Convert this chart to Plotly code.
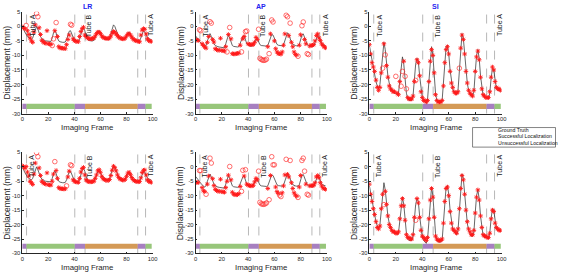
import plotly.graph_objects as go

W, H = 561, 277
frames = list(range(100))

# ---------------- data ----------------
gt_lr = [-0.5, -1.0, -2.0, -3.0, -3.5, -4.0, -4.3, -4.5, -4.0, -2.5,
         -0.8, 0.0, -1.0, -2.5, -3.5, -4.2, -4.6, -4.8, -5.0, -5.0,
         -5.1, -5.2, -5.2, -4.0, -2.2, -1.5, -2.3, -4.0, -5.0, -5.3,
         -5.5, -5.5, -5.5, -5.4, -4.5, -2.8, -1.7, -1.5, -2.8, -4.2,
         -4.8, -5.0, -5.1, -5.2, -4.5, -2.5, -1.0, -0.5, -1.5, -3.5,
         -4.5, -4.8, -5.0, -5.0, -5.0, -4.8, -3.8, -2.5, -1.7, -1.5,
         -2.2, -3.3, -4.0, -4.3, -4.5, -4.6, -4.6, -4.3, -3.0, -1.0,
         0.5, 0.0, -1.2, -2.6, -3.6, -4.1, -4.3, -4.5, -4.5, -4.2,
         -3.2, -2.2, -2.0, -2.6, -3.6, -4.3, -4.7, -4.9, -5.0, -5.1,
         -5.0, -4.0, -2.5, -1.5, -2.0, -3.0, -3.8, -4.2, -4.5, -4.6]

gt_ap = [-3.3, -3.8, -4.5, -5.2, -5.8, -6.3, -6.7, -7.0, -6.5, -5.0,
         -3.3, -2.5, -3.5, -5.0, -6.0, -6.6, -6.9, -7.0, -7.1, -7.2,
         -7.3, -7.4, -7.4, -6.0, -4.0, -3.0, -4.0, -5.8, -6.6, -6.9,
         -7.0, -7.1, -7.1, -7.0, -6.0, -4.5, -3.5, -3.2, -4.5, -6.0,
         -6.5, -6.7, -6.8, -6.8, -6.3, -5.2, -4.5, -4.3, -5.3, -6.3,
         -6.6, -6.7, -6.8, -6.8, -6.8, -6.6, -5.5, -3.8, -2.8, -3.0,
         -4.2, -5.5, -6.2, -6.5, -6.6, -6.7, -6.7, -6.3, -4.8, -3.0,
         -2.2, -2.8, -4.3, -5.5, -6.2, -6.5, -6.6, -6.7, -6.7, -6.2,
         -4.5, -3.0, -2.6, -3.8, -5.3, -6.2, -6.6, -6.8, -6.9, -6.9,
         -6.8, -5.5, -4.0, -3.2, -3.5, -5.0, -6.0, -6.3, -6.5, -6.6]

gt_si = [-6.5, -9.0, -12.0, -14.5, -17.0, -19.0, -20.5, -21.5, -20.0, -15.0,
         -9.0, -5.5, -8.0, -13.0, -17.0, -19.5, -21.0, -22.0, -22.5, -23.0,
         -23.0, -23.5, -23.0, -18.0, -13.0, -10.5, -13.0, -18.0, -23.0, -25.0,
         -25.5, -25.5, -25.5, -24.0, -18.0, -13.0, -11.0, -12.0, -17.0, -22.0,
         -24.5, -25.5, -26.0, -26.5, -25.0, -18.0, -11.0, -7.0, -10.0, -17.0,
         -23.0, -25.5, -26.0, -26.0, -26.0, -25.5, -20.0, -12.0, -7.0, -6.5,
         -9.5, -15.0, -19.0, -21.5, -22.5, -23.0, -23.5, -22.0, -15.0, -7.0,
         -2.5, -4.0, -9.0, -15.0, -19.5, -22.0, -23.0, -24.0, -24.0, -22.5,
         -16.0, -10.0, -8.0, -11.0, -17.0, -21.5, -24.0, -24.5, -24.5, -24.5,
         -25.0, -23.0, -18.0, -14.5, -15.0, -19.5, -21.5, -22.0, -22.0, -22.5]

lr_r1 = [-0.2, -0.5, -0.8, 0.3, -1.5, -2.8, -4.0, -5.0, -5.5, -2.0,
         0.5, 4.4, 3.3, -0.5, -2.8, -4.8, -5.3, -5.7, -5.8, -1.5,
         -6.0, -6.1, -6.2, -6.6, -4.3, -1.5, 1.3, -3.5, -7.0, -7.4,
         -7.5, -7.5, -7.6, -7.7, -6.3, -4.5, -3.0, 0.7, 0.4, -4.3,
         -4.9, -5.1, -5.2, -5.3, -3.5, -1.8, -0.8, -0.3, -3.0, -3.5,
         -4.0, -4.2, -4.3, -4.3, -4.2, -4.0, -3.3, -2.5, -2.0, -2.0,
         -2.5, -3.3, -3.8, -4.0, -4.1, -4.2, -4.2, -4.0, -3.3, -2.3,
         -1.8, -2.0, -2.6, -3.2, -3.7, -4.0, -4.2, -4.3, -4.3, -4.0,
         -3.3, -2.7, -2.5, -3.0, -3.7, -4.3, -4.7, -4.9, -5.0, -5.2,
         -5.3, -3.0, -1.3, -0.8, -1.0, -2.6, -4.3, -4.9, -5.1, -5.2]
lr_r1_fail = [3, 11, 12, 23, 24, 26, 37, 38]

lr_r2 = [0.4, 0.0, -0.5, 0.1, -1.8, -3.2, -5.0, -5.5, -6.1, -2.5,
         1.3, 4.9, 3.5, -0.4, -3.0, -5.0, -5.5, -5.8, -6.0, -2.1,
         -6.2, -6.3, -6.3, -5.0, -2.5, 1.8, -1.3, -4.0, -7.2, -7.5,
         -7.6, -7.6, -7.7, -7.6, -6.6, -3.5, -1.5, 0.7, 0.4, -4.5,
         -5.0, -5.2, -5.3, -5.4, -4.0, -1.8, -0.6, -0.2, -2.8, -4.5,
         -5.0, -5.1, -5.2, -5.2, -5.1, -5.0, -4.0, -2.8, -1.4, -1.0,
         -1.9, -3.3, -4.1, -4.4, -4.6, -4.7, -4.7, -4.4, -3.0, -1.2,
         0.2, -0.3, -1.4, -2.8, -3.7, -4.2, -4.4, -4.6, -4.6, -4.3,
         -3.3, -2.2, -1.9, -2.7, -3.7, -4.4, -4.8, -5.0, -5.1, -5.2,
         -5.1, -3.8, -2.0, -1.2, -1.1, -2.8, -4.5, -5.0, -5.2, -5.4]
lr_r2_fail = [11, 12, 25, 34, 37, 38]

ap_r1 = [-4.6, -4.7, -4.9, -1.2, -1.5, -6.0, -6.6, -7.1, -7.5, -5.5,
         -3.5, 1.6, 1.1, -4.5, -5.4, -7.7, -8.0, -8.2, -8.2, -4.1,
         -8.3, -8.4, -8.5, -7.0, -8.8, -2.8, -0.4, -4.3, -9.4, -9.5,
         -9.5, -9.4, -9.3, -9.2, -6.5, -8.8, -4.3, -3.5, -1.8, -1.6,
         -6.0, -6.2, -6.3, -6.3, -6.2, -5.5, -3.8, -4.5, -1.0, -11.0,
         -11.4, -11.6, -11.7, -11.6, -11.3, -7.0, -9.4, -2.6, 2.2, 1.5,
         -5.0, -7.7, -8.8, -9.4, -9.4, -9.6, -8.8, -6.5, -2.6, 3.8,
         3.3, -3.2, 1.1, -5.5, -7.0, -8.8, -9.7, -9.9, -10.3, -6.5,
         -2.9, 0.2, 1.5, -4.5, -6.0, -9.4, -9.7, -6.8, -6.5, -6.5,
         -6.3, -5.0, -3.2, -2.6, -4.0, -4.9, -6.0, -6.6, -7.1, -7.4]
ap_r1_fail = [3, 4, 11, 12, 24, 26, 35, 38, 39, 48, 49, 50, 51, 52, 53, 54,
              56, 58, 59, 69, 70, 72, 78, 81, 82, 85, 86]

ap_r2 = [-5.3, -5.4, -5.5, -1.3, -1.3, -7.2, -8.3, -8.6, -9.5, -6.0,
         -3.2, 3.0, 1.3, -4.1, -6.5, -7.8, -8.2, -8.4, -8.5, -4.3,
         -8.6, -8.7, -8.8, -7.2, -5.0, -2.9, 0.1, -4.5, -8.8, -9.5,
         -9.6, -9.7, -9.6, -9.3, -6.8, -8.5, -1.2, -3.2, -1.0, -6.0,
         -6.3, -6.5, -6.6, -6.6, -6.4, -5.2, -4.0, -4.5, -1.5, -12.3,
         -12.8, -12.9, -13.0, -12.8, -12.5, -7.5, -11.4, -3.0, 3.5, 0.7,
         0.7, -7.0, -8.6, -9.2, -9.8, -10.3, -9.0, -6.6, -2.8, 2.6,
         -2.6, -3.5, 2.2, -5.5, -7.5, -9.0, -9.8, -10.2, -10.6, -7.0,
         -3.0, 2.2, 3.0, -1.5, -6.0, -9.5, -9.8, -6.6, -6.5, -6.5,
         -6.4, -5.5, -3.5, -3.0, -3.8, -5.5, -6.6, -7.3, -7.6, -7.8]
ap_r2_fail = [3, 4, 8, 11, 12, 26, 35, 36, 38, 48, 49, 50, 51, 52, 53, 54,
              56, 58, 59, 60, 64, 65, 69, 72, 78, 81, 82, 83, 85, 86]

si_r1 = [-6.3, -9.5, -12.5, -14.0, -15.5, -18.5, -21.0, -22.0, -21.0, -16.0,
         -14.4, -6.0, -9.8, -13.5, -17.5, -20.5, -21.5, -22.0, -22.5, -22.5,
         -17.2, -23.0, -23.5, -19.0, -20.6, -15.5, -12.0, -17.2, -21.5, -24.5,
         -25.0, -25.0, -25.0, -24.0, -19.0, -18.6, -11.5, -12.5, -17.0, -22.5,
         -24.5, -25.5, -25.5, -26.0, -25.5, -19.0, -12.0, -8.0, -10.0, -16.0,
         -23.5, -25.5, -26.0, -26.0, -26.0, -25.5, -20.5, -12.5, -8.0, -7.0,
         -9.5, -15.5, -19.5, -21.0, -22.5, -23.0, -23.0, -22.5, -14.4, -7.5,
         -3.0, -4.5, -9.5, -15.5, -19.5, -22.0, -23.0, -23.5, -24.0, -22.0,
         -15.5, -10.5, -8.5, -11.5, -17.5, -21.5, -23.5, -24.0, -24.5, -24.5,
         -24.5, -22.5, -17.5, -14.0, -15.0, -19.0, -21.0, -21.5, -21.5, -22.0]
si_r1_fail = [10, 12, 20, 24, 25, 27, 28, 35, 68]

si_r2 = [-6.0, -9.5, -12.0, -14.5, -16.5, -19.0, -21.0, -21.5, -20.5, -14.5,
         -9.5, -13.1, -8.5, -13.0, -17.0, -20.0, -21.0, -22.0, -22.5, -22.5,
         -23.0, -23.0, -22.5, -18.0, -13.5, -11.0, -13.5, -18.5, -23.5, -24.5,
         -24.5, -25.0, -25.0, -23.5, -17.5, -18.5, -11.0, -12.5, -17.5, -22.0,
         -24.0, -24.5, -25.0, -25.5, -24.5, -18.0, -11.5, -7.5, -10.5, -17.5,
         -24.0, -25.0, -25.5, -25.5, -25.5, -25.0, -19.5, -12.0, -7.5, -7.0,
         -10.0, -15.5, -19.5, -21.5, -22.0, -22.5, -23.0, -21.5, -14.5, -7.5,
         -3.0, -4.5, -9.5, -15.0, -19.0, -21.5, -22.5, -23.5, -23.5, -22.0,
         -16.0, -10.5, -8.0, -11.5, -17.0, -21.0, -23.5, -24.0, -24.0, -24.5,
         -24.5, -23.0, -18.0, -15.0, -15.5, -19.5, -21.0, -21.5, -22.0, -22.0]
si_r2_fail = [11, 35]

titles = ["LR", "AP", "SI"]
phase_bounds = [0, 3.3, 40.3, 48.2, 88.6, 94.6, 99.3]
phase_names = ["mix", "A", "mix", "B", "mix", "A"]
divider_frames = [3.3, 40.3, 48.2, 88.6, 94.6]
tube_labels = ["Tube A", "Tube B", "Tube A"]
tube_label_frames = [7.5, 51.5, 98.5]
ytick_vals = [-30, -25, -20, -15, -10, -5, 0, 5]
xtick_vals = [0, 20, 40, 60, 80, 100]
legend_names = ["Ground Truth", "Successful Localization", "Unsuccessful Localization"]

# ---------------- style / layout ----------------
phase_colors = {"mix": "#a77fc0", "A": "#97c67a", "B": "#d49a56"}
FONT = "Liberation Sans, Arial, sans-serif"
AX = "#262626"
col_px = [(20.5, 152.5), (196.0, 329.0), (372.0, 506.0)]
row_px = [(9.0, 113.0), (152.7, 256.0)]

def px2x(p):
    return p / W

def px2y(p):
    return 1 - p / H

panels = [
    (0, 0, gt_lr, lr_r1, lr_r1_fail),
    (0, 1, gt_ap, ap_r1, ap_r1_fail),
    (0, 2, gt_si, si_r1, si_r1_fail),
    (1, 0, gt_lr, lr_r2, lr_r2_fail),
    (1, 1, gt_ap, ap_r2, ap_r2_fail),
    (1, 2, gt_si, si_r2, si_r2_fail),
]

fig = go.Figure()
shapes = []
annotations = []

for i, (r, c, gt, det, fail) in enumerate(panels):
    sfx = "" if i == 0 else str(i + 1)
    xa, ya = "x" + sfx, "y" + sfx
    x0, x1 = col_px[c]
    y0, y1 = row_px[r]
    fig.layout["xaxis" + sfx] = dict(
        domain=[px2x(x0), px2x(x1)], anchor=ya, range=[0, 100],
        tickvals=xtick_vals, ticktext=[str(v) for v in xtick_vals],
        showgrid=False, zeroline=False, showline=True, linecolor=AX, linewidth=0.6,
        ticks="inside", ticklen=2, tickwidth=0.6, tickcolor=AX,
        tickfont=dict(size=5.8, color=AX, family=FONT), mirror=False)
    fig.layout["yaxis" + sfx] = dict(
        domain=[px2y(y1), px2y(y0)], anchor=xa, range=[-30, 5],
        tickvals=ytick_vals, ticktext=[str(v) for v in ytick_vals],
        showgrid=False, zeroline=False, showline=True, linecolor=AX, linewidth=0.6,
        ticks="inside", ticklen=2, tickwidth=0.6, tickcolor=AX,
        tickfont=dict(size=5.8, color=AX, family=FONT), mirror=False)

    # phase bar
    for k in range(len(phase_names)):
        shapes.append(dict(type="rect", xref=xa, yref=ya,
                           x0=phase_bounds[k], x1=phase_bounds[k + 1],
                           y0=-28.4, y1=-26.6, line=dict(width=0),
                           fillcolor=phase_colors[phase_names[k]], layer="below"))
    # dividers
    for f in divider_frames:
        shapes.append(dict(type="line", xref=xa, yref=ya + " domain",
                           x0=f, x1=f, y0=0, y1=1,
                           line=dict(color="#9a9a9a", width=0.7, dash="dash"),
                           layer="below"))
    # tube labels
    for lab, f in zip(tube_labels, tube_label_frames):
        annotations.append(dict(text=lab, x=f, y=4.8, xref=xa, yref=ya,
                                showarrow=False, textangle=-90,
                                xanchor="center", yanchor="top",
                                font=dict(size=7, color="#1a1a1a", family=FONT)))

    ok_x = [f for f in frames if f not in fail]
    ok_y = [det[f] for f in frames if f not in fail]
    bad_x = [f for f in frames if f in fail]
    bad_y = [det[f] for f in frames if f in fail]

    fig.add_trace(go.Scatter(x=frames, y=gt, mode="lines", xaxis=xa, yaxis=ya,
                             line=dict(color="#404040", width=0.8), showlegend=False,
                             name=legend_names[0]))
    fig.add_trace(go.Scatter(x=ok_x, y=ok_y, mode="markers", xaxis=xa, yaxis=ya,
                             marker=dict(symbol="asterisk-open", size=3.8, color="#ff1a1a",
                                         line=dict(width=0.9, color="#ff1a1a")),
                             showlegend=False, name=legend_names[1]))
    fig.add_trace(go.Scatter(x=bad_x, y=bad_y, mode="markers", xaxis=xa, yaxis=ya,
                             marker=dict(symbol="circle-open", size=4.6, color="#ff3030",
                                         line=dict(width=0.7, color="#ff3030")),
                             showlegend=False, name=legend_names[2]))

    # axis titles
    annotations.append(dict(text="Displacement (mm)", x=px2x(x0 - 15.5), y=px2y((y0 + y1) / 2),
                            xref="paper", yref="paper", showarrow=False, textangle=-90,
                            xanchor="center", yanchor="middle",
                            font=dict(size=8.5, color=AX, family=FONT)))
    annotations.append(dict(text="Imaging Frame", x=px2x((x0 + x1) / 2), y=px2y(y1 + 14.5),
                            xref="paper", yref="paper", showarrow=False,
                            xanchor="center", yanchor="middle",
                            font=dict(size=7.8, color=AX, family=FONT)))
    if r == 0:
        annotations.append(dict(text="<b>" + titles[c] + "</b>", x=px2x((x0 + x1) / 2),
                                y=px2y(3.8), xref="paper", yref="paper", showarrow=False,
                                xanchor="center", yanchor="middle",
                                font=dict(size=7, color="#2424f0", family=FONT)))

# ---------------- custom legend ----------------
lx0, lx1, ly0, ly1 = 476.5, 560.5, 127.3, 147.3
fig.layout["xaxis7"] = dict(domain=[px2x(lx0), px2x(lx1)], anchor="y7", range=[0, 1],
                            visible=False, fixedrange=True)
fig.layout["yaxis7"] = dict(domain=[px2y(ly1), px2y(ly0)], anchor="x7", range=[0, 1],
                            visible=False, fixedrange=True)
shapes.append(dict(type="rect", xref="paper", yref="paper",
                   x0=px2x(lx0), x1=px2x(lx1), y0=px2y(ly1), y1=px2y(ly0),
                   line=dict(color="#333333", width=0.6), fillcolor="white", layer="above"))
row_fr = [0.9, 0.58, 0.23]
fig.add_trace(go.Scatter(x=[0.05, 0.265], y=[row_fr[0], row_fr[0]], mode="lines",
                         xaxis="x7", yaxis="y7", line=dict(color="#404040", width=0.8),
                         showlegend=False, hoverinfo="skip"))
fig.add_trace(go.Scatter(x=[0.155], y=[row_fr[1]], mode="markers", xaxis="x7", yaxis="y7",
                         marker=dict(symbol="asterisk-open", size=3.8, color="#ff1a1a",
                                     line=dict(width=0.9, color="#ff1a1a")),
                         showlegend=False, hoverinfo="skip"))
fig.add_trace(go.Scatter(x=[0.155], y=[row_fr[2]], mode="markers", xaxis="x7", yaxis="y7",
                         marker=dict(symbol="circle-open", size=4.6, color="#ff3030",
                                     line=dict(width=0.7, color="#ff3030")),
                         showlegend=False, hoverinfo="skip"))
for name, fy in zip(legend_names, row_fr):
    annotations.append(dict(text=name, x=0.285, y=fy, xref="x7", yref="y7",
                            showarrow=False, xanchor="left", yanchor="middle",
                            font=dict(size=5.2, color="#111111", family=FONT)))

fig.update_layout(width=W, height=H, margin=dict(l=0, r=0, t=0, b=0),
                  paper_bgcolor="white", plot_bgcolor="white",
                  shapes=shapes, annotations=annotations, showlegend=False,
                  font=dict(family=FONT))

fig.write_html("out.html")
